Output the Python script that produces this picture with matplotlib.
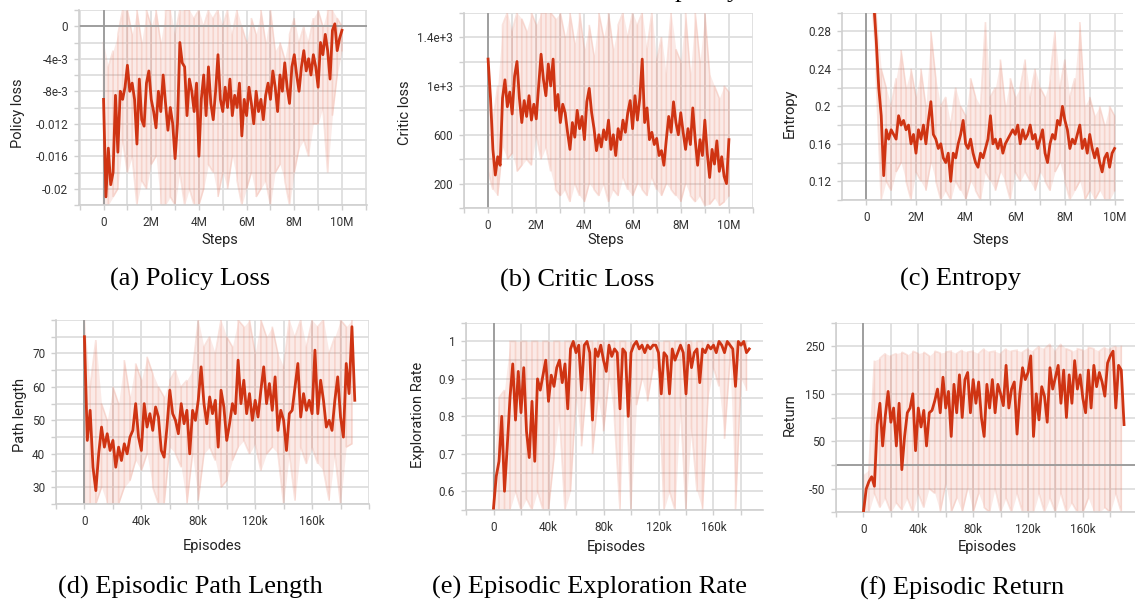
import numpy as np
import matplotlib
matplotlib.use("Agg")
import matplotlib.pyplot as plt

# ---------------- data ----------------
# (a) policy loss, smoothed, in units of 1e-3, every 0.1M steps from 0 to 10M
policy_loss_smooth_milli = [
    -9, -21, -15, -19.5, -18, -8.5, -15.5, -8, -9, -7.5,
    -4.8, -8, -7, -9, -14.5, -6.5, -11.5, -12.3, -7, -5.5,
    -9, -10.5, -12.5, -8, -10.5, -6, -9.5, -12.8, -10, -12,
    -16.3, -12, -2, -4.5, -5, -11, -6.5, -8, -10.5, -7,
    -16, -9, -6, -11, -5, -9.5, -11.5, -8, -3.5, -9,
    -10.5, -7.5, -10, -6.5, -11, -8.5, -10, -7, -13.5, -9,
    -11, -7.5, -9.5, -12, -8, -10.5, -9, -11.5, -8.5, -7,
    -9, -5.5, -7.5, -10.5, -6, -8, -4.5, -7.5, -9.5, -5,
    -3.5, -6, -8, -5, -3, -5.5, -4, -6, -3.5, -5,
    -7.5, -2, -3.5, -1, -3, -6.5, -0.5, 0.3, -3, -1.5, -0.5]
# raw envelope, every 0.2M steps
policy_loss_raw_hi_milli = [
    -2, -5, -3, -1, 2, 2, -1, 2, -2, 2, 0, 2, -2, 2, 2, -1, 2, 2, 2, 1,
    2, 0, 2, 1, 2, 0, 2, -1, 2, 0, -2, 1, -1, 2, -2, 2, -3, -2, -4, -1,
    1, -2, 0, -2, 1, 2, 0, 2, 2, 1, 0]
policy_loss_raw_lo_milli = [
    -22, -22, -21, -20, -14, -18, -16, -22, -19, -20, -17, -16, -22, -22, -21, -22, -18, -22, -20, -22,
    -22, -20, -17, -18, -21, -18, -20, -16, -19, -22, -20, -18, -21, -20, -19, -22, -18, -17, -19, -22,
    -18, -15, -14, -16, -12, -12, -10, -18, -11, -6, -3]

# (b) critic loss, every 0.1M steps
critic_loss_smooth = [
    1220, 900, 480, 270, 420, 350, 900, 1050, 830, 950,
    770, 1080, 1200, 900, 700, 880, 750, 920, 720, 850,
    730, 1000, 1260, 1050, 920, 1180, 1000, 1220, 800, 930,
    700, 850, 780, 620, 480, 700, 580, 800, 650, 750,
    560, 870, 980, 780, 650, 470, 600, 500, 640, 560,
    720, 480, 600, 430, 650, 560, 720, 620, 780, 880,
    650, 920, 720, 900, 1220, 700, 820, 560, 620, 520,
    570, 430, 470, 350, 560, 750, 620, 870, 700, 600,
    780, 620, 480, 650, 520, 820, 560, 350, 560, 430,
    720, 450, 250, 480, 360, 550, 300, 420, 260, 200, 560]
critic_loss_raw_hi = [
    1200, 700, 1000, 1500, 1600, 1450, 1600, 1550, 1450, 1600, 1500, 1600, 1600, 1600, 1550, 1600, 1400, 1600, 1350, 1600,
    1300, 1500, 1250, 1600, 1400, 1600, 1300, 1500, 1600, 1400, 1600, 1500, 1600, 1300, 1600, 1200, 1400, 1100, 1600, 1300,
    1200, 1600, 1100, 1600, 1200, 1600, 1100, 1000, 900, 1000, 950]
critic_loss_raw_lo = [
    300, 150, 100, 500, 400, 450, 300, 350, 400, 350, 600, 400, 500, 300, 150, 100, 150, 50, 200, 100,
    50, 200, 150, 100, 200, 50, 150, 100, 250, 150, 100, 200, 150, 100, 250, 150, 100, 200, 150, 100,
    50, 200, 100, 50, 100, 20, 30, 80, 20, 50, 100]

# (c) entropy, every 0.1M steps
entropy_smooth = [
    0.50, 0.42, 0.36, 0.31, 0.27, 0.22, 0.19, 0.126, 0.175, 0.165,
    0.175, 0.17, 0.165, 0.19, 0.18, 0.185, 0.175, 0.18, 0.16, 0.17,
    0.15, 0.175, 0.165, 0.18, 0.16, 0.185, 0.205, 0.17, 0.165, 0.155,
    0.16, 0.145, 0.14, 0.15, 0.12, 0.15, 0.145, 0.16, 0.17, 0.185,
    0.16, 0.155, 0.165, 0.15, 0.14, 0.135, 0.15, 0.145, 0.155, 0.165,
    0.19, 0.16, 0.165, 0.155, 0.165, 0.15, 0.16, 0.165, 0.17, 0.175,
    0.17, 0.18, 0.16, 0.175, 0.165, 0.17, 0.18, 0.165, 0.17, 0.155,
    0.165, 0.175, 0.15, 0.14, 0.16, 0.17, 0.165, 0.185, 0.18, 0.20,
    0.185, 0.175, 0.155, 0.165, 0.16, 0.17, 0.18, 0.155, 0.165, 0.15,
    0.17, 0.155, 0.145, 0.155, 0.14, 0.13, 0.145, 0.15, 0.135, 0.15, 0.155]
entropy_raw_hi = [
    0.50, 0.38, 0.30, 0.24, 0.22, 0.20, 0.23, 0.26, 0.22, 0.24, 0.21, 0.24, 0.20, 0.28, 0.23, 0.20, 0.21, 0.18, 0.22, 0.20,
    0.19, 0.23, 0.21, 0.20, 0.29, 0.21, 0.22, 0.25, 0.20, 0.23, 0.21, 0.22, 0.25, 0.21, 0.24, 0.22, 0.21, 0.23, 0.28, 0.22,
    0.25, 0.21, 0.23, 0.29, 0.20, 0.21, 0.19, 0.20, 0.18, 0.20, 0.19]
entropy_raw_lo = [
    0.40, 0.30, 0.23, 0.10, 0.12, 0.11, 0.13, 0.14, 0.12, 0.10, 0.13, 0.12, 0.11, 0.14, 0.12, 0.10, 0.11, 0.10, 0.12, 0.11,
    0.10, 0.12, 0.11, 0.10, 0.13, 0.12, 0.11, 0.13, 0.12, 0.10, 0.13, 0.12, 0.13, 0.12, 0.11, 0.13, 0.12, 0.11, 0.13, 0.14,
    0.12, 0.10, 0.11, 0.12, 0.10, 0.11, 0.10, 0.11, 0.10, 0.10, 0.11]

# (d) path length, every 2k episodes from 0 to 190k
path_length_smooth = [
    75, 44, 53, 36, 29, 40, 48, 42, 46, 41,
    44, 36, 42, 38, 43, 40, 45, 47, 55, 45,
    41, 55, 48, 52, 47, 54, 51, 41, 39, 48,
    59, 52, 50, 46, 55, 49, 53, 40, 53, 50,
    56, 66, 55, 49, 57, 52, 56, 42, 59, 54,
    44, 49, 55, 52, 68, 55, 62, 52, 58, 50,
    56, 51, 59, 66, 55, 61, 53, 63, 47, 53,
    50, 41, 52, 53, 60, 67, 51, 58, 53, 56,
    52, 71, 52, 62, 56, 48, 50, 47, 56, 63,
    51, 45, 67, 58, 78, 56]
# raw envelope every 4k episodes (0 .. 188k)
path_length_raw_hi = [
    80, 60, 74, 55, 50, 60, 55, 68, 57, 67, 62, 69, 64, 60, 57, 62, 65, 60, 62, 65,
    80, 72, 75, 70, 80, 75, 72, 80, 78, 80, 70, 80, 75, 78, 70, 66, 80, 75, 80, 72,
    80, 78, 80, 70, 75, 80, 78, 80]
path_length_raw_lo = [
    25, 25, 25, 30, 25, 25, 25, 30, 32, 38, 35, 40, 30, 25, 25, 42, 40, 36, 25, 40,
    26, 40, 42, 38, 30, 32, 38, 42, 44, 40, 43, 35, 40, 42, 40, 25, 40, 26, 42, 37,
    42, 37, 35, 26, 40, 25, 42, 43]

# (e) exploration rate, every 2k episodes from 0 to 186k
exploration_smooth = [
    0.555, 0.64, 0.68, 0.80, 0.60, 0.72, 0.85, 0.94, 0.79, 0.92,
    0.81, 0.93, 0.76, 0.69, 0.84, 0.68, 0.90, 0.87, 0.91, 0.95,
    0.84, 0.91, 0.88, 0.93, 0.95, 0.89, 0.94, 0.82, 0.98, 1.00,
    0.97, 0.99, 0.87, 0.99, 1.00, 0.97, 0.79, 0.98, 0.96, 0.99,
    0.95, 0.92, 0.99, 0.96, 0.98, 0.97, 0.82, 0.98, 0.97, 0.80,
    0.97, 0.99, 1.00, 0.98, 0.99, 0.97, 0.99, 0.98, 0.99, 0.99,
    0.97, 0.86, 0.97, 0.96, 0.86, 0.98, 0.95, 0.97, 0.99, 0.97,
    0.86, 0.99, 0.93, 0.97, 0.98, 0.89, 0.98, 0.97, 0.99, 0.98,
    0.99, 0.97, 1.00, 0.99, 0.97, 1.00, 0.99, 0.98, 0.88, 1.00,
    0.99, 1.00, 0.97, 0.98]
# raw envelope every 4k episodes (0 .. 184k)
exploration_raw_hi = [
    0.65, 0.85, 0.87, 1.0, 1.0, 1.0, 1.0, 1.0, 1.0, 1.0, 1.0, 1.0, 1.0, 1.0, 1.0, 1.0, 1.0, 1.0, 1.0, 1.0,
    1.0, 1.0, 1.0, 1.0, 1.0, 1.0, 1.0, 1.0, 1.0, 1.0, 1.0, 1.0, 1.0, 1.0, 1.0, 1.0, 1.0, 1.0, 1.0, 1.0,
    1.0, 1.0, 1.0, 1.0, 1.0, 1.0, 1.0]
exploration_raw_lo = [
    0.55, 0.55, 0.55, 0.55, 0.60, 0.55, 0.58, 0.55, 0.60, 0.55, 0.55, 0.69, 0.80, 0.55, 0.60, 0.85, 0.72, 0.90, 0.70, 0.85,
    0.76, 0.90, 0.79, 0.55, 0.92, 0.55, 0.83, 0.90, 0.84, 0.93, 0.92, 0.55, 0.60, 0.55, 0.83, 0.55, 0.77, 0.60, 0.55, 0.85,
    0.93, 0.88, 0.74, 0.95, 0.55, 0.90, 0.87]

# (f) return, every 2k episodes from 0 to 190k
return_smooth = [
    -100, -51, -35, -25, -45, 85, 130, 40, 105, 155,
    90, 120, 40, 130, -10, 60, 110, 120, 150, 30,
    120, 80, 115, 40, 110, 115, 135, 160, 110, 185,
    120, 155, 60, 170, 110, 190, 100, 180, 195, 110,
    180, 130, 175, 100, 60, 170, 120, 180, 110, 170,
    150, 125, 210, 120, 160, 175, 65, 150, 205, 180,
    195, 230, 60, 150, 95, 165, 145, 90, 205, 160,
    185, 210, 130, 200, 100, 190, 130, 220, 160, 190,
    140, 110, 200, 120, 210, 165, 195, 175, 145, 215,
    230, 240, 120, 210, 200, 85]
# raw envelope every 4k episodes (0 .. 188k)
return_raw_hi = [
    -20, -10, 220, 225, 235, 230, 235, 238, 232, 240, 235, 238, 230, 240, 236, 238, 240, 235, 242, 238,
    240, 235, 245, 238, 240, 235, 245, 240, 242, 238, 245, 240, 250, 245, 255, 240, 255, 245, 240, 245,
    242, 248, 245, 240, 248, 245, 250, 250]
return_raw_lo = [
    -100, -100, -60, -90, -70, -100, -80, -95, -70, -100, -60, -90, -50, -60, -100, -40, -100, -70, -100, -50,
    -100, -60, -90, -100, -50, -100, -70, -100, -60, -100, -100, -100, -60, -100, -70, -100, -60, -100, -80, -100,
    -100, -70, -100, -100, -90, -100, -60, -100]

# tick labels
step_tick_vals = [0, 2e6, 4e6, 6e6, 8e6, 10e6]
step_tick_labels = ["0", "2M", "4M", "6M", "8M", "10M"]
episode_tick_vals = [0, 40e3, 80e3, 120e3, 160e3]
episode_tick_labels = ["0", "40k", "80k", "120k", "160k"]
policy_ytick_vals = [0, -4e-3, -8e-3, -0.012, -0.016, -0.02]
policy_ytick_labels = ["0", "-4e-3", "-8e-3", "-0.012", "-0.016", "-0.02"]
critic_ytick_vals = [1400, 1000, 600, 200]
critic_ytick_labels = ["1.4e+3", "1e+3", "600", "200"]
entropy_ytick_vals = [0.28, 0.24, 0.2, 0.16, 0.12]
entropy_ytick_labels = ["0.28", "0.24", "0.2", "0.16", "0.12"]
path_ytick_vals = [70, 60, 50, 40, 30]
path_ytick_labels = ["70", "60", "50", "40", "30"]
explore_ytick_vals = [1.0, 0.9, 0.8, 0.7, 0.6]
explore_ytick_labels = ["1", "0.9", "0.8", "0.7", "0.6"]
return_ytick_vals = [250, 150, 50, -50]
return_ytick_labels = ["250", "150", "50", "-50"]

# ---------------- styling ----------------
W, H = 1135, 603
LINE = "#cf3413"
RAW = "#e8806a"
GRID = "#dedede"
ZERO = "#9a9a9a"
TICKC = "#cfcfcf"
TXT = "#333333"
SANS = ["Roboto", "DejaVu Sans"]
SERIF = ["Liberation Serif", "DejaVu Serif"]

fig = plt.figure(figsize=(W / 100, H / 100), dpi=100)


def px_rect(l, t, r, b):
    return [l / W, 1 - b / H, (r - l) / W, (b - t) / H]


def fmap(ticks, vals, labs):
    out = []
    for t in ticks:
        lab = ""
        for v, s in zip(vals, labs):
            if abs(t - v) < 1e-9 * max(1.0, abs(v)) + 1e-12:
                lab = s
        out.append(lab)
    return out


def panel(rect, xs, ys, xr, hi, lo, xlim, ylim, xstep, xvals, xlabs,
          ystep, yvals, ylabs, xlabel, xlabel_pos, ylabel, ylabel_pos,
          caption, caption_pos, zero_y=False):
    ax = fig.add_axes(px_rect(*rect))
    ax.set_xlim(*xlim)
    ax.set_ylim(*ylim)
    xt = np.arange(np.ceil(xlim[0] / xstep - 1e-9) * xstep, xlim[1] + xstep * 1e-6, xstep)
    yt = np.arange(np.ceil(ylim[0] / ystep - 1e-9) * ystep, ylim[1] + ystep * 1e-6, ystep)
    ax.set_xticks(xt)
    ax.set_xticklabels(fmap(xt, xvals, xlabs))
    ax.set_yticks(yt)
    ax.set_yticklabels(fmap(yt, yvals, ylabs))
    ax.grid(True, color=GRID, lw=1.3, zorder=0)
    ax.set_axisbelow(True)
    for s in ["top", "right"]:
        ax.spines[s].set_visible(False)
    for s in ["left", "bottom"]:
        ax.spines[s].set_color(TICKC)
        ax.spines[s].set_linewidth(1.2)
    ax.tick_params(axis="both", length=3.6, width=1.0, color=TICKC,
                   labelsize=8.5, labelcolor=TXT, pad=4.2)
    for lab in ax.get_xticklabels() + ax.get_yticklabels():
        lab.set_family(SANS)

    # raw data: vertical zig-zag spikes between envelope values
    hi = np.asarray(hi, float)
    lo = np.asarray(lo, float)
    n = len(hi)
    even = (np.arange(n) % 2) == 0
    yr = np.empty(2 * n)
    yr[0::2] = np.where(even, hi, lo)
    yr[1::2] = np.where(even, lo, hi)
    ax.plot(np.repeat(xr, 2), yr, color=RAW, lw=1.2, alpha=0.22, zorder=1,
            solid_joinstyle="miter")
    ax.fill_between(xr, lo, hi, color=RAW, alpha=0.16, lw=0, zorder=1)

    ax.axvline(0, color=ZERO, lw=1.3, zorder=2)
    if zero_y:
        ax.axhline(0, color=ZERO, lw=1.3, zorder=2)
    ax.plot(xs, ys, color=LINE, lw=2.0, zorder=3, solid_joinstyle="round")

    fig.text(xlabel_pos[0] / W, 1 - xlabel_pos[1] / H, xlabel, ha="center",
             va="center", fontsize=10.5, family=SANS, color="#222222")
    fig.text(ylabel_pos[0] / W, 1 - ylabel_pos[1] / H, ylabel, ha="center",
             va="center", rotation=90, fontsize=10.5, family=SANS, color="#222222")
    fig.text(caption_pos[0] / W, 1 - caption_pos[1] / H, caption, ha="center",
             va="center", fontsize=19, family=SERIF, color="black")
    return ax


def xgrid(start, stop, n):
    return np.linspace(start, stop, n)


# (a)
panel((79, 10, 367, 205),
      xgrid(0, 10e6, len(policy_loss_smooth_milli)), np.array(policy_loss_smooth_milli) * 1e-3,
      xgrid(0, 10e6, len(policy_loss_raw_hi_milli)),
      np.array(policy_loss_raw_hi_milli) * 1e-3, np.array(policy_loss_raw_lo_milli) * 1e-3,
      (-1.03e6, 11.05e6), (-0.022, 0.002), 1e6, step_tick_vals, step_tick_labels,
      2e-3, policy_ytick_vals, policy_ytick_labels,
      "Steps", (220, 240), "Policy loss", (18, 113),
      "(a) Policy Loss", (190, 279), zero_y=True)

# (b)
panel((464, 12.7, 753, 208),
      xgrid(0, 10e6, len(critic_loss_smooth)), critic_loss_smooth,
      xgrid(0, 10e6, len(critic_loss_raw_hi)), critic_loss_raw_hi, critic_loss_raw_lo,
      (-1.0e6, 11.0e6), (0, 1600), 1e6, step_tick_vals, step_tick_labels,
      200, critic_ytick_vals, critic_ytick_labels,
      "Steps", (606, 240), "Critic loss", (405, 113),
      "(b) Critic Loss", (577, 280))

# (c)
panel((842, 12.7, 1123, 200),
      xgrid(0, 10e6, len(entropy_smooth)), entropy_smooth,
      xgrid(0, 10e6, len(entropy_raw_hi)), entropy_raw_hi, entropy_raw_lo,
      (-0.98e6, 10.34e6), (0.10, 0.30), 1e6, step_tick_vals, step_tick_labels,
      0.02, entropy_ytick_vals, entropy_ytick_labels,
      "Steps", (991, 240), "Entropy", (790, 113),
      "(c) Entropy", (960, 279))

# (d)
panel((56, 320, 369, 504),
      xgrid(0, 190e3, len(path_length_smooth)), path_length_smooth,
      xgrid(0, 188e3, len(path_length_raw_hi)), path_length_raw_hi, path_length_raw_lo,
      (-20e3, 200e3), (25, 80), 20e3, episode_tick_vals, episode_tick_labels,
      5, path_ytick_vals, path_ytick_labels,
      "Episodes", (212, 546), "Path length", (20, 415),
      "(d) Episodic Path Length", (190, 587))

# (e)
panel((466, 322.7, 763, 510),
      xgrid(0, 186e3, len(exploration_smooth)), exploration_smooth,
      xgrid(0, 184e3, len(exploration_raw_hi)), exploration_raw_hi, exploration_raw_lo,
      (-20e3, 196e3), (0.55, 1.05), 20e3, episode_tick_vals, episode_tick_labels,
      0.05, explore_ytick_vals, explore_ytick_labels,
      "Episodes", (616, 547), "Exploration Rate", (418, 415),
      "(e) Episodic Exploration Rate", (590, 587))

# (f)
panel((836, 322.7, 1135, 512.3),
      xgrid(0, 190e3, len(return_smooth)), return_smooth,
      xgrid(0, 188e3, len(return_raw_hi)), return_raw_hi, return_raw_lo,
      (-20e3, 198e3), (-100, 300), 20e3, episode_tick_vals, episode_tick_labels,
      50, return_ytick_vals, return_ytick_labels,
      "Episodes", (987, 547), "Return", (790, 415),
      "(f) Episodic Return", (962, 588), zero_y=True)

# remnant of the text line above the figure (only descenders visible, as in the source)
fig.text(675 / W, 1 + 3 / H, "policy", ha="left", va="baseline",
         fontsize=19, family=SERIF, color="black")

fig.savefig("out.png", dpi=100)
